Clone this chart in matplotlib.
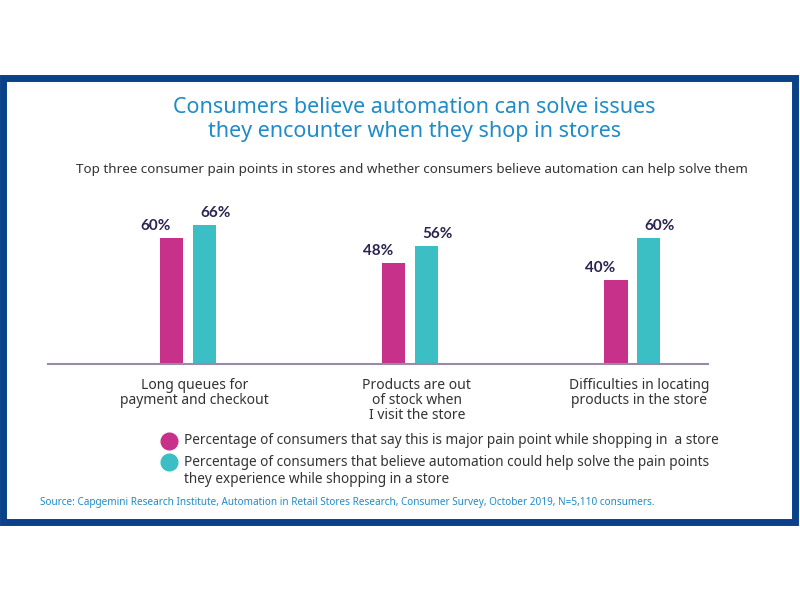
import matplotlib.pyplot as plt
import numpy as np
from matplotlib.patches import Rectangle
from matplotlib.lines import Line2D

plt.rcParams['font.family'] = ['Noto Sans', 'DejaVu Sans']

categories = ['Long queues for\npayment and checkout',
              'Products are out\nof stock when\nI visit the store',
              'Difficulties in locating\nproducts in the store']
pain_point = [60, 48, 40]
automation = [66, 56, 60]
legend_labels = ['Percentage of consumers that say this is major pain point while shopping in  a store',
                 'Percentage of consumers that believe automation could help solve the pain points\nthey experience while shopping in a store']

magenta = '#c8318a'
teal = '#3bbfc4'
navy = '#2b2350'
blue_title = '#1f8bc7'
frame_blue = '#0a4289'

fig = plt.figure(figsize=(8, 6), dpi=100)

# outer frame
fig.patches.append(Rectangle((0.004, 1 - 522 / 600), 0.99, (522 - 78) / 600,
                             transform=fig.transFigure, fill=False,
                             edgecolor=frame_blue, linewidth=5, zorder=0))

fig.text(0.518, 1 - 108 / 600, 'Consumers believe automation can solve issues',
         ha='center', va='center', fontsize=15.5, color=blue_title)
fig.text(0.518, 1 - 132 / 600, 'they encounter when they shop in stores',
         ha='center', va='center', fontsize=15.5, color=blue_title)
fig.text(0.515, 1 - 170 / 600,
         'Top three consumer pain points in stores and whether consumers believe automation can help solve them',
         ha='center', va='center', fontsize=9.7, color='#333333')

ax = fig.add_axes([0.06, 1 - 364 / 600, 0.825, 164 / 600])
x = np.arange(len(categories))
w = 0.104
off = 0.074
ax.bar(x - off, pain_point, w, color=magenta)
ax.bar(x + off, automation, w, color=teal)
for xi, a, b in zip(x, pain_point, automation):
    ax.text(xi - off - 0.07, a + 2.5, f'{a}%', ha='center', va='bottom',
            fontsize=11, fontweight='bold', color=navy, family=['Lato', 'DejaVu Sans'])
    ax.text(xi + off + 0.05, b + 2.5, f'{b}%', ha='center', va='bottom',
            fontsize=11, fontweight='bold', color=navy, family=['Lato', 'DejaVu Sans'])

ax.set_xlim(-0.63, 2.34)
ax.set_ylim(0, 78)
for s in ['top', 'right', 'left']:
    ax.spines[s].set_visible(False)
ax.spines['bottom'].set_color('#9a8aaa')
ax.spines['bottom'].set_linewidth(1.5)
ax.set_yticks([])
ax.set_xticks(x + 0.03)
ax.set_xticklabels(categories, fontsize=10, color='#333333', linespacing=1.0)
ax.tick_params(axis='x', length=0, pad=10)

# legend
for yy, c in [(441, magenta), (462, teal)]:
    fig.add_artist(Line2D([169 / 800], [1 - yy / 600], marker='o', markersize=12,
                          color=c, linestyle='none', transform=fig.transFigure))
fig.text(184 / 800, 1 - 441 / 600, legend_labels[0], ha='left', va='center',
         fontsize=9.8, color='#333333')
fig.text(184 / 800, 1 - 455 / 600, legend_labels[1], ha='left', va='top',
         fontsize=9.8, color='#333333', linespacing=1.2)

fig.text(40 / 800, 1 - 503 / 600,
         'Source: Capgemini Research Institute, Automation in Retail Stores Research, Consumer Survey, October 2019, N=5,110 consumers.',
         ha='left', va='center', fontsize=7.2, color=blue_title)

fig.savefig('out.png', dpi=100)
